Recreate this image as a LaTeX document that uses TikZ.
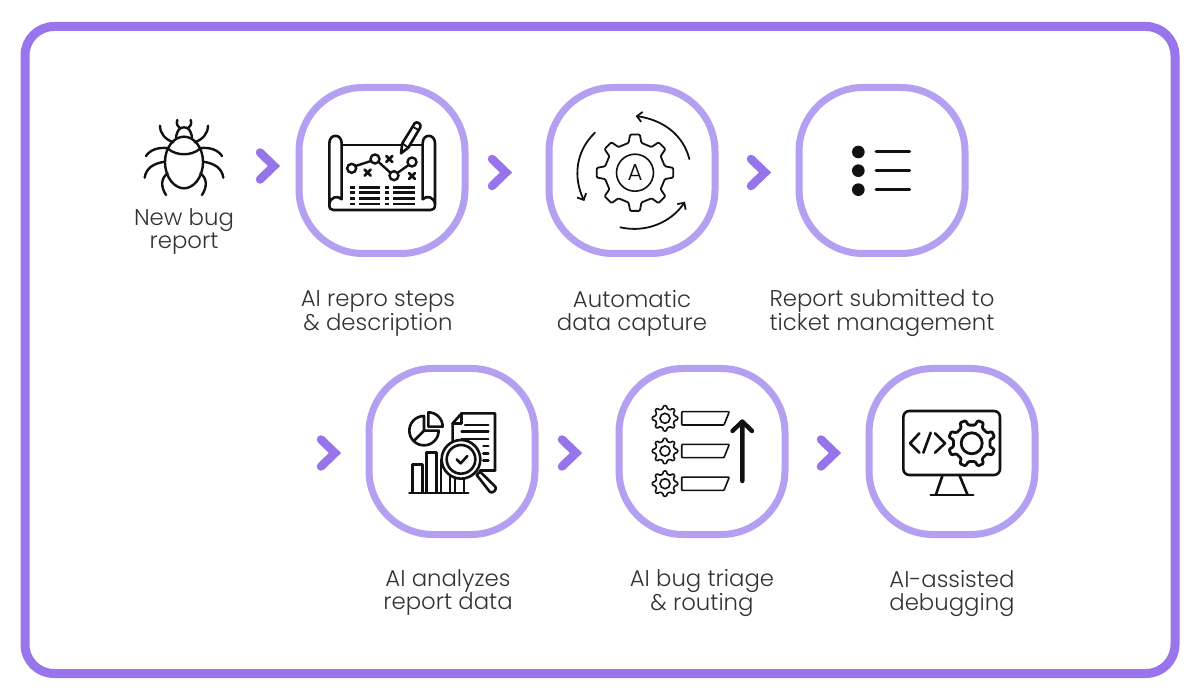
\documentclass[tikz,border=0pt]{standalone}
\usepackage{fontspec}
\setmainfont{Poppins}[UprightFont=* Light]
\usetikzlibrary{arrows.meta,calc}
\definecolor{framec}{HTML}{9875EA}
\definecolor{ringc}{HTML}{B4A0F0}
\definecolor{chevc}{HTML}{9874EA}
\definecolor{inkc}{HTML}{111111}
\definecolor{textc}{HTML}{333333}
\tikzset{
  frameb/.style={draw=framec,line width=9pt,fill=white,rounded corners=29pt},
  ringb/.style={draw=ringc,line width=7pt,fill=white,minimum width=166pt,minimum height=166pt,rounded corners=64pt,inner sep=0pt},
  chev/.style={draw=chevc,line width=8.5pt,line cap=round,miter limit=10},
  lab/.style={align=center,text=textc,font=\fontsize{22.8}{23}\selectfont,inner sep=0pt},
  ink/.style={draw=inkc,line width=2.6pt,line cap=round,line join=round},
  thin/.style={draw=inkc,line width=1.8pt,line cap=round,line join=round},
  bugline/.style={thin,line width=2.4pt},
  zoomed/.style={x=0.33333pt,y=-0.33333pt}
}
% cx cy router rroot teeth rotation
\newcommand{\gearshape}[6]{%
  \pgfmathsetmacro{\gs}{360/#5}%
  \draw[ink,rounded corners=1pt,fill=white,line width=\gearlw] ({#6-0.27*\gs}:#4) ++(#1,#2)
    \foreach \i in {1,...,#5}{%
      \pgfextra{\pgfmathsetmacro{\ga}{#6+(\i-1)*\gs}}%
      -- ($(#1,#2)+({\ga-0.27*\gs}:#4)$) -- ($(#1,#2)+({\ga-0.16*\gs}:#3)$) -- ($(#1,#2)+({\ga+0.16*\gs}:#3)$) -- ($(#1,#2)+({\ga+0.27*\gs}:#4)$)
    } -- cycle;%
}
\newcommand{\gearlw}{2pt}
\newcommand{\chevron}[2]{\draw[chev] (#1+5,#2-13.5) -- (#1+19,#2) -- (#1+5,#2+13.5);}
\begin{document}
\begin{tikzpicture}[x=1pt,y=-1pt]
\useasboundingbox (0,0) rectangle (1200,700);
\fill[white] (0,0) rectangle (1200,700);
\draw[frameb] (25,26.5) rectangle (1175,673.5);

\node[ringb] (s1) at (382,170.5) {};
\node[ringb] (s2) at (632,170.5) {};
\node[ringb] (s3) at (882,170.5) {};
\node[ringb] (s4) at (452,451.5) {};
\node[ringb] (s5) at (702,451.5) {};
\node[ringb] (s6) at (952,451.5) {};

\chevron{255}{166}
\chevron{487}{172.5}
\chevron{746}{172.5}
\chevron{316}{453}
\chevron{557}{453}
\chevron{816}{453}

\node[lab] (l0) at (184,232) {New bug\\report};
\node[lab] (l1) at (378,313) {AI repro steps\\\& description};
\node[lab] (l2) at (632,313) {Automatic\\data capture};
\node[lab] (l3) at (882,313) {Report submitted to\\ticket management};
\node[lab] (l4) at (448,593) {AI analyzes\\report data};
\node[lab] (l5) at (702,593) {AI bug triage\\\& routing};
\node[lab] (l6) at (952,593) {AI-assisted\\debugging};

% bug
\begin{scope}[shift={(120,80)},zoomed]
\draw[bugline] (192,170) .. controls (160,170) and (135,205) .. (135,245) .. controls (135,295) and (165,325) .. (192,325) .. controls (219,325) and (249,295) .. (249,245) .. controls (249,205) and (224,170) .. (192,170) -- cycle;
\draw[bugline] (145,207) .. controls (170,228) and (214,228) .. (239,207);
\draw[bugline] (168,175) .. controls (170,150) and (180,142) .. (192,142) .. controls (204,142) and (214,150) .. (216,175);
\draw[bugline] (172,120) .. controls (168,130) and (172,140) .. (180,145);
\draw[bugline] (212,120) .. controls (216,130) and (212,140) .. (204,145);
\draw[bugline] (120,137) .. controls (120,160) and (135,178) .. (160,187);
\draw[bugline] (264,137) .. controls (264,160) and (249,178) .. (224,187);
\draw[bugline] (78,228) .. controls (90,210) and (115,200) .. (145,205);
\draw[bugline] (306,228) .. controls (294,210) and (269,200) .. (239,205);
\draw[bugline] (74,293) .. controls (78,265) and (100,250) .. (135,245);
\draw[bugline] (310,293) .. controls (306,265) and (284,250) .. (249,245);
\draw[bugline] (138,345) .. controls (122,320) and (122,295) .. (143,280);
\draw[bugline] (246,345) .. controls (262,320) and (262,295) .. (241,280);
\end{scope}

% map
\begin{scope}[shift={(120,80)},zoomed]
\draw[ink] (665,195) -- (908,195);
\draw[ink] (628,375) -- (628,190) .. controls (628,160) and (665,160) .. (665,190) -- (665,358) .. controls (655,345) and (628,350) .. (628,375) .. controls (628,385) and (632,390) .. (640,390) -- (932,390) .. controls (940,390) and (945,385) .. (945,375) -- (945,190) .. controls (945,160) and (908,160) .. (908,190) -- (908,358) .. controls (918,345) and (945,350) .. (945,375);
\draw[ink,line width=2.4pt] (707,258) -- (753,243) (778,248) -- (810,277) (835,277) -- (866,255);
\node[draw=inkc,line width=2.4pt,circle,minimum size=9pt,inner sep=0pt,fill=white] (m1) at (695,265) {};
\node[draw=inkc,line width=2.4pt,circle,minimum size=9pt,inner sep=0pt,fill=white] (m2) at (765,237) {};
\node[draw=inkc,line width=2.4pt,circle,minimum size=9pt,inner sep=0pt,fill=white] (m3) at (822,287) {};
\node[draw=inkc,line width=2.4pt,circle,minimum size=9pt,inner sep=0pt,fill=white] (m4) at (876,246) {};
\foreach \cx/\cy in {743/278,808/237,876/288}{
  \draw[ink] (\cx-9,\cy-9) -- (\cx+9,\cy+9) (\cx-9,\cy+9) -- (\cx+9,\cy-9);
}
\foreach \ry in {322,338,355,372}{
  \draw[draw=inkc,line width=2.4pt] (690,\ry) -- (705,\ry) (718,\ry) -- (780,\ry) (795,\ry) -- (808,\ry) (820,\ry) -- (885,\ry);
}
% pencil
\draw[ink,fill=white] (843,220) -- (847,190) -- (884,130) .. controls (890,122) and (906,132) .. (901,142) -- (865,203) -- cycle;
\draw[ink,line width=1.8pt] (878,140) -- (897,151);
\draw[ink,line width=1.8pt] (847,190) -- (865,203);
\end{scope}

% gear A
\renewcommand{\gearlw}{1.8pt}
\gearshape{635}{172.7}{38.5}{30.5}{8}{0}
\node[draw=inkc,line width=1.6pt,circle,minimum size=37pt,inner sep=0pt,font=\fontsize{23}{23}\selectfont,text=inkc] (ga) at (635,172.7) {A};
\begin{scope}[shift={(540,80)},zoomed]
\draw[thin,-{Straight Barb[length=5pt,width=10pt]}] (448,237) .. controls (430,165) and (370,120) .. (287,108);
\draw[thin,-{Straight Barb[length=5pt,width=10pt]}] (165,158) .. controls (105,215) and (100,295) .. (133,363);
\draw[thin,-{Straight Barb[length=5pt,width=10pt]}] (241,442) .. controls (320,460) and (395,425) .. (435,365);
\end{scope}

% list
\begin{scope}[shift={(540,80)},zoomed]
\foreach \ry in {216,272,329}{
  \fill[inkc] (955,\ry) circle[radius=19];
  \draw[draw=inkc,line width=3pt,line cap=round] (1008,\ry) -- (1109,\ry);
}
\end{scope}

% analyzer
\begin{scope}[shift={(360,360)},zoomed]
\draw[ink,fill=white] (405,332) -- (405,160) -- (305,160) -- (278,190) -- (278,260);
\draw[ink] (278,190) -- (305,190) -- (305,160);
\draw[ink] (315,195) -- (385,195) (305,215) -- (385,215) (305,237) -- (385,237) (370,258) -- (385,258) (370,280) -- (385,280) (370,302) -- (385,302);
\draw[ink] (405,332) -- (360,332);
\draw[ink] (192,168) arc[start angle=270,end angle=0,radius=44] -- (192,212) -- cycle;
\draw[ink] (192,212) -- (161,243);
\draw[ink] (205,157) arc[start angle=270,end angle=360,radius=43] -- (205,200) -- cycle;
\draw[ink] (157,398) -- (157,313) -- (187,313) -- (187,398);
\draw[ink] (200,398) -- (200,278) -- (230,278) -- (230,398);
\draw[ink] (243,398) -- (243,300) -- (270,300) -- (270,398);
\draw[ink] (285,398) -- (285,340) -- (312,340) -- (312,398);
\draw[ink] (148,399) -- (325,399);
\draw[ink,fill=white] (303,298) circle[radius=58];
\draw[ink,fill=white] (303,298) circle[radius=43];
\draw[ink,fill=white] (350,345) -- (360,335) -- (406,380) .. controls (412,388) and (398,402) .. (390,396) -- cycle;
\draw[ink] (290,298) -- (302,310) -- (322,288);
\end{scope}

% triage
\renewcommand{\gearlw}{1.6pt}
\gearshape{665}{418.3}{12.8}{9.8}{8}{0}
\gearshape{665}{451}{12.8}{9.8}{8}{0}
\gearshape{665}{483.7}{12.8}{9.8}{8}{0}
\node[draw=inkc,line width=1.6pt,circle,minimum size=10pt,inner sep=0pt] (t1) at (665,418.3) {};
\node[draw=inkc,line width=1.6pt,circle,minimum size=10pt,inner sep=0pt] (t2) at (665,451) {};
\node[draw=inkc,line width=1.6pt,circle,minimum size=10pt,inner sep=0pt] (t3) at (665,483.7) {};
\foreach \ty in {411.7,444.4,477.1}{
  \draw[thin,line width=1.6pt,rounded corners=0.8pt] (681.7,\ty) -- (729.3,\ty) -- (724,\ty+13.3) -- (681.7,\ty+13.3) -- cycle;
}
\draw[draw=inkc,line width=4.4pt,line cap=round,line join=round] (742.3,481) -- (742.3,421.5) (732.5,431) -- (742.3,421.5) -- (752,431);

% debug
\begin{scope}[shift={(860,360)},zoomed]
\draw[ink,rounded corners=6pt] (130,153) rectangle (420,345);
\draw[ink] (248,345) -- (228,403) (298,345) -- (322,403);
\draw[ink] (212,405) -- (340,405);
\draw[ink] (178,220) -- (150,250) -- (178,278);
\draw[ink] (212,218) -- (190,278);
\draw[ink] (225,220) -- (255,250) -- (225,278);
\end{scope}
\renewcommand{\gearlw}{2.8pt}
\gearshape{971.7}{443.3}{23.5}{18.5}{8}{22.5}
\node[draw=inkc,line width=2.8pt,circle,minimum size=21pt,inner sep=0pt] (g6) at (971.7,443.3) {};
\end{tikzpicture}
\end{document}
